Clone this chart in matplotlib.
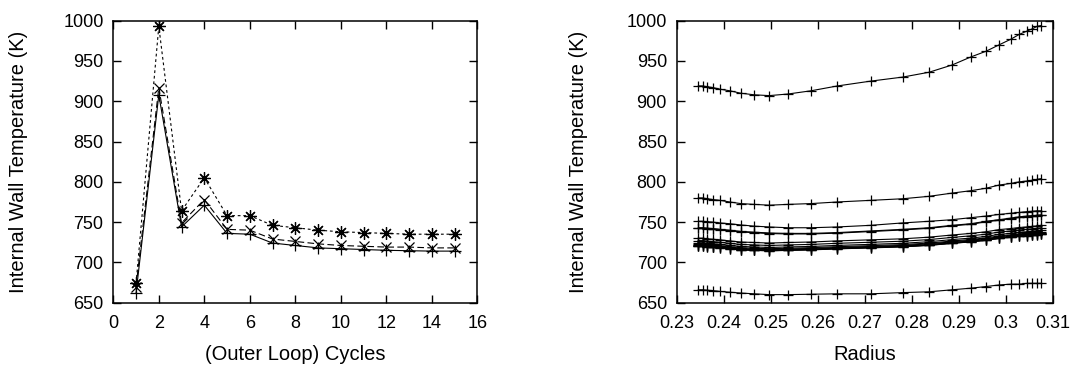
import matplotlib
matplotlib.use("Agg")
import matplotlib.pyplot as plt

plt.rcParams['font.family'] = ['Liberation Sans', 'DejaVu Sans']

# left panel: wall temperature per outer loop cycle
cycles = list(range(1, 16))
t_min = [662, 908, 744, 771, 736, 735, 724, 721, 718, 717, 716, 715, 714.5, 714, 714]
t_mid = [670, 917, 749, 778, 741, 740, 729, 726, 723, 721, 720, 719, 719, 718, 718]
t_max = [674, 993, 764, 805, 758, 758, 746, 743, 740, 738, 737, 736, 735, 735, 735]

# right panel: temperature profile along radius, one curve per cycle
radius = [0.2346, 0.2355, 0.2365, 0.2377, 0.2392, 0.2413, 0.2436, 0.2465, 0.2497,
          0.2537, 0.2586, 0.2642, 0.2713, 0.2781, 0.2837, 0.2886, 0.2926, 0.2958,
          0.2986, 0.3011, 0.3029, 0.3045, 0.3057, 0.3067, 0.3076]

c1 = [666, 666, 665.5, 665, 664, 663, 662, 661, 660, 660, 660.5, 661, 661,
      662.5, 663.5, 666, 668, 670, 672, 673, 673, 674, 674, 674, 674]
c2 = [919, 919, 918, 917, 915, 913, 910, 908, 907, 909, 913, 919, 925,
      930, 936, 945, 955, 962, 970, 977, 983, 987, 990, 993, 994]
c3 = [751, 751, 750.5, 750, 749, 748, 746.5, 745, 744, 743, 743, 744, 746,
      749, 751, 753, 755.5, 757.5, 759.5, 761, 762, 763, 763.5, 764, 764]
c4 = [780, 780, 779, 778, 777, 775, 773, 772, 771, 772, 773, 775, 777,
      779, 782, 786, 789, 792, 796, 798, 800, 801, 802, 803, 804]
c5 = [743, 743, 742.5, 742, 741, 740, 738.5, 737.5, 736.5, 736, 736, 737, 739,
      741, 743, 746, 748, 751, 753, 755, 756.5, 757.5, 758, 758.5, 759]
c6 = [742.3, 742.3, 741.8, 741.3, 740.3, 739.3, 737.8, 736.8, 735.8, 735.3, 735.3, 736.3, 738.3,
      740.3, 742.3, 745.3, 747.3, 750.3, 752.3, 754.3, 755.8, 756.8, 757.3, 757.8, 758.3]
c7 = [730, 730, 729.3, 728.7, 728, 726.7, 725.3, 724.7, 724, 724.7, 725.3, 726.7, 728,
      729.3, 731.3, 734, 736, 738, 740.7, 742, 743.3, 744, 744.7, 745.3, 746]
c8 = [727, 727, 726.3, 725.7, 725, 723.7, 722.3, 721.7, 721, 721.7, 722.3, 723.7, 725,
      726.3, 728.3, 731, 733, 735, 737.7, 739, 740.3, 741, 741.7, 742.3, 743]
c9 = [724.4, 724.4, 723.7, 723.1, 722.4, 721.1, 719.8, 719.2, 718.5, 719.2, 719.8, 721.1, 722.4,
      723.7, 725.7, 728.3, 730.2, 732.2, 734.8, 736.1, 737.4, 738, 738.7, 739.4, 740]
c10 = [722.7, 722.7, 722.1, 721.5, 720.8, 719.5, 718.3, 717.6, 717, 717.6, 718.3, 719.5, 720.8,
       722.1, 724, 726.5, 728.5, 730.4, 732.9, 734.2, 735.5, 736.1, 736.7, 737.4, 738]
c11 = [721.7, 721.7, 721.1, 720.5, 719.8, 718.5, 717.3, 716.6, 716, 716.6, 717.3, 718.5, 719.8,
       721.1, 723, 725.5, 727.5, 729.4, 731.9, 733.2, 734.5, 735.1, 735.7, 736.4, 737]
c12 = [721, 721, 720.3, 719.7, 719.1, 717.8, 716.6, 715.9, 715.3, 715.9, 716.6, 717.8, 719.1,
       720.3, 722.2, 724.7, 726.6, 728.5, 731, 732.2, 733.5, 734.1, 734.7, 735.4, 736]
c13 = [720.4, 720.4, 719.8, 719.1, 718.5, 717.3, 716, 715.4, 714.8, 715.4, 716, 717.3, 718.5,
       719.8, 721.6, 724.1, 726, 727.8, 730.3, 731.6, 732.8, 733.4, 734, 734.7, 735.3]
c14 = [720.1, 720.1, 719.5, 718.8, 718.2, 717, 715.7, 715.1, 714.5, 715.1, 715.7, 717, 718.2,
       719.5, 721.3, 723.8, 725.7, 727.5, 730, 731.3, 732.5, 733.1, 733.7, 734.4, 735]
c15 = [719.9, 719.9, 719.3, 718.6, 718, 716.8, 715.5, 714.9, 714.3, 714.9, 715.5, 716.8, 718,
       719.3, 721.1, 723.6, 725.5, 727.3, 729.8, 731.1, 732.3, 732.9, 733.5, 734.2, 734.8]
profiles = [c1, c2, c3, c4, c5, c6, c7, c8, c9, c10, c11, c12, c13, c14, c15]

x_ticks_left = [0, 2, 4, 6, 8, 10, 12, 14, 16]
x_ticks_right = [0.23, 0.24, 0.25, 0.26, 0.27, 0.28, 0.29, 0.30, 0.31]
x_labels_right = ['0.23', '0.24', '0.25', '0.26', '0.27', '0.28', '0.29', '0.3', '0.31']
y_ticks = [650, 700, 750, 800, 850, 900, 950, 1000]

fig = plt.figure(figsize=(10.76, 3.66), dpi=100)
ax1 = fig.add_axes([0.1053, 0.1730, 0.3383, 0.7705])
ax2 = fig.add_axes([0.6289, 0.1730, 0.3494, 0.7705])

ax1.plot(cycles, t_min, color='black', lw=0.8, ls='-', marker='+', ms=9, mew=0.9)
ax1.plot(cycles, t_mid, color='black', lw=0.8, ls=(0, (6, 3)), marker='x', ms=7, mew=0.9)
ax1.plot(cycles, t_max, color='black', lw=0.8, ls=(0, (2.5, 2.5)), marker=(8, 2, 0), ms=9, mew=0.9)
ax1.set_xlim(0, 16)
ax1.set_xticks(x_ticks_left)
ax1.set_xlabel('(Outer Loop) Cycles', fontsize=14.5)

for prof in profiles:
    ax2.plot(radius, prof, color='black', lw=0.8, marker='+', ms=7, mew=0.9)
ax2.set_xlim(0.23, 0.31)
ax2.set_xticks(x_ticks_right)
ax2.set_xticklabels(x_labels_right)
ax2.set_xlabel('Radius', fontsize=14.5)

for ax in (ax1, ax2):
    ax.set_ylim(650, 1000)
    ax.set_yticks(y_ticks)
    ax.set_ylabel('Internal Wall Temperature (K)', fontsize=14.5)
    ax.tick_params(direction='in', length=6, width=1, top=True, right=True,
                   labelsize=13)
    ax.tick_params(axis='x', pad=9)
    ax.tick_params(axis='y', pad=7)
    for sp in ax.spines.values():
        sp.set_linewidth(1.1)

ax1.yaxis.set_label_coords(-0.234, 0.5)
ax2.yaxis.set_label_coords(-0.236, 0.5)
ax1.xaxis.set_label_coords(0.5, -0.15)
ax2.xaxis.set_label_coords(0.5, -0.15)

fig.savefig('out.png', dpi=100)
